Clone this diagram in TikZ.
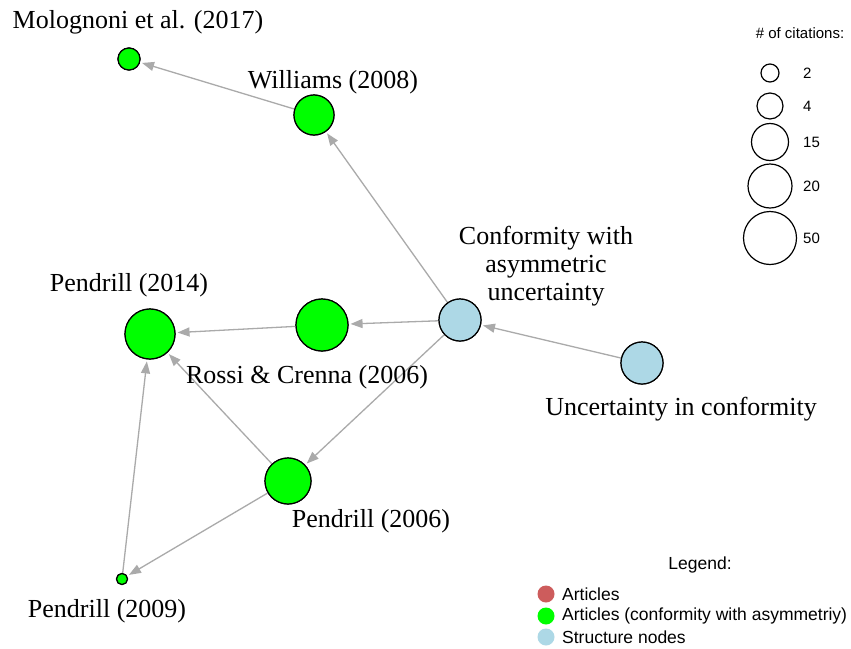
\documentclass[tikz,border=0pt]{standalone}
\usepackage{fontspec}
\setmainfont{Liberation Serif}
\setsansfont{Liberation Sans}
\usetikzlibrary{arrows.meta}
\definecolor{artred}{HTML}{CD5C5C}
\definecolor{artgreen}{HTML}{00FF00}
\definecolor{structblue}{HTML}{ADD8E6}
\definecolor{edgegray}{HTML}{AAAAAA}
\tikzset{
  vert/.style={circle, draw=black, line width=1.2pt, inner sep=0pt, minimum size=#1},
  grn/.style={vert=#1, fill=artgreen},
  blu/.style={vert=#1, fill=structblue},
  lab/.style={font=\fontsize{26}{29}\selectfont, inner sep=0pt, align=center},
  edge/.style={draw=edgegray, line width=1.3pt, -{Triangle[length=12pt,width=9pt]}, shorten >=2pt},
  scalec/.style={circle, draw=black, line width=1.2pt, inner sep=0pt, minimum size=#1},
  small/.style={font=\sffamily\fontsize{15}{17}\selectfont, inner sep=0pt},
  leg/.style={font=\sffamily\fontsize{17.5}{20}\selectfont, inner sep=0pt, anchor=west},
  legdot/.style={circle, inner sep=0pt, minimum size=17pt, fill=#1}
}
\begin{document}
\begin{tikzpicture}[x=1pt,y=-1pt]
\useasboundingbox[fill=white] (0,0) rectangle (851,648);
% nodes
\node[grn=22pt] (mol) at (129,59) {};
\node[grn=40pt] (wil) at (314,115) {};
\node[blu=42pt] (conf) at (460,320) {};
\node[blu=42pt] (unc) at (642,363) {};
\node[grn=52pt] (ros) at (322,325) {};
\node[grn=50pt] (p14) at (150,334) {};
\node[grn=46pt] (p06) at (288,481) {};
\node[grn=11pt] (p09) at (122,579) {};
% edges
\draw[edge] (wil) -- (mol);
\draw[edge] (conf) -- (wil);
\draw[edge] (conf) -- (ros);
\draw[edge] (ros) -- (p14);
\draw[edge] (unc) -- (conf);
\draw[edge] (conf) -- (p06);
\draw[edge] (p06) -- (p14);
\draw[edge] (p06) -- (p09);
\draw[edge] (p09) -- (p14);
% redraw nodes on top
\node[grn=22pt] at (129,59) {};
\node[grn=40pt] at (314,115) {};
\node[blu=42pt] at (460,320) {};
\node[blu=42pt] at (642,363) {};
\node[grn=52pt] at (322,325) {};
\node[grn=50pt] at (150,334) {};
\node[grn=46pt] at (288,481) {};
\node[grn=11pt] at (122,579) {};
% labels
\node[lab] (lmol) at (138,22) {Molognoni et al. (2017)};
\node[lab] (lwil) at (333,82) {Williams (2008)};
\node[lab] (lconf) at (546,266) {Conformity with\\[-1pt]asymmetric\\[-1pt]uncertainty};
\node[lab] (lunc) at (681,409) {Uncertainty in conformity};
\node[lab] (lp14) at (129,285) {Pendrill (2014)};
\node[lab] (lros) at (307,377) {Rossi \& Crenna (2006)};
\node[lab] (lp06) at (371,521) {Pendrill (2006)};
\node[lab] (lp09) at (107,611) {Pendrill (2009)};
% citation scale
\node[small] (ctitle) at (800,33) {\# of citations:};
\node[scalec=18pt] (c2) at (770,73) {};
\node[scalec=26pt] (c4) at (770,106) {};
\node[scalec=37pt] (c15) at (770,142) {};
\node[scalec=44pt] (c20) at (770,186) {};
\node[scalec=53pt] (c50) at (770,238) {};
\node[small, anchor=west] at (803,73) {2};
\node[small, anchor=west] at (803,106) {4};
\node[small, anchor=west] at (803,142) {15};
\node[small, anchor=west] at (803,186) {20};
\node[small, anchor=west] at (803,238) {50};
% legend
\node[leg, anchor=center] (ltitle) at (700,565) {Legend:};
\node[legdot=artred] (d1) at (546,594) {};
\node[legdot=artgreen] (d2) at (546,616) {};
\node[legdot=structblue] (d3) at (546,637) {};
\node[leg] at (562,594) {Articles};
\node[leg] at (562,616) {Articles (conformity with asymmetriy)};
\node[leg] at (562,637) {Structure nodes};
\end{tikzpicture}
\end{document}
